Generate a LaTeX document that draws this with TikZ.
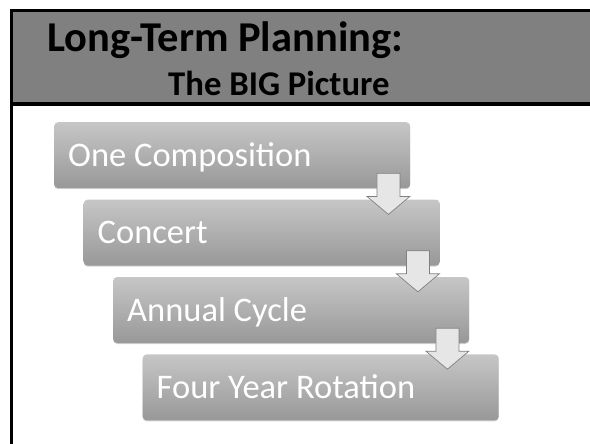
\documentclass[tikz,border=0pt]{standalone}
\usepackage{fontspec}
\setmainfont{Carlito}
\usepackage{tikz}
\usetikzlibrary{positioning, calc, shadows}
\definecolor{bandgray}{HTML}{808080}
\definecolor{boxtop}{HTML}{C6C6C6}
\definecolor{boxbottom}{HTML}{989898}
\definecolor{arrowfill}{HTML}{E6E6E6}
\tikzset{
x=1pt, y=-1pt, % pixel-like units, y running down
stage/.style={rounded corners=4pt, top color=boxtop, bottom color=boxbottom,
  minimum width=356pt, minimum height=66pt, text width=328pt, inner xsep=14pt, inner ysep=0pt,
  text height=28pt, text depth=6pt, align=flush left, text=white, font=\fontsize{34.5}{40}\selectfont,
  drop shadow={opacity=0.35, shadow xshift=0pt, shadow yshift=-1pt}}, % the grey bars
flowarrow/.style={fill=arrowfill, draw=bandgray, line width=0.7pt}, % the block arrows
heading/.style={inner sep=0pt, anchor=base west, font=\bfseries}, % title lines
}
\begin{document}
\begin{tikzpicture}
\useasboundingbox (0,0) rectangle (590,444);

            % title band
            \fill[bandgray] (10,10) rectangle (590,104);
            \draw[line width=3pt] (590,10.5) -- (11,10.5) -- (11,444);
            \draw[line width=4pt] (10,104) -- (590,104);
            \node[heading, font=\bfseries\fontsize{42.5}{48}\selectfont] (title) at (47,52) {Long-Term Planning:};
            \node[heading, font=\bfseries\fontsize{34.7}{40}\selectfont] (subtitle) at (168,96) {The BIG Picture};

            % the steps
            \node[stage, anchor=north west] (comp) at (54,122) {One Composition};
            \node[stage, below=11pt of comp.south west, anchor=north west, xshift=29.5pt] (conc) {Concert};
            \node[stage, below=11pt of conc.south west, anchor=north west, xshift=29.5pt] (cycle) {Annual Cycle};
            \node[stage, below=11pt of cycle.south west, anchor=north west, xshift=29.5pt] (rot) {Four Year Rotation};

            \foreach \a/\b in {comp/conc, conc/cycle, cycle/rot}{
                \coordinate (head) at ($(\a.south east |- \b.north)+(-22,15)$);
                \draw[flowarrow] ($(\a.south east)+(-33.5,-15)$) -- ++(23,0) -- ++(0,23) -- ++(10,0)
                    -- (head) -- ++(-21.5,-18) -- ++(10,0) -- cycle;
            }
        \end{tikzpicture}
\end{document}
